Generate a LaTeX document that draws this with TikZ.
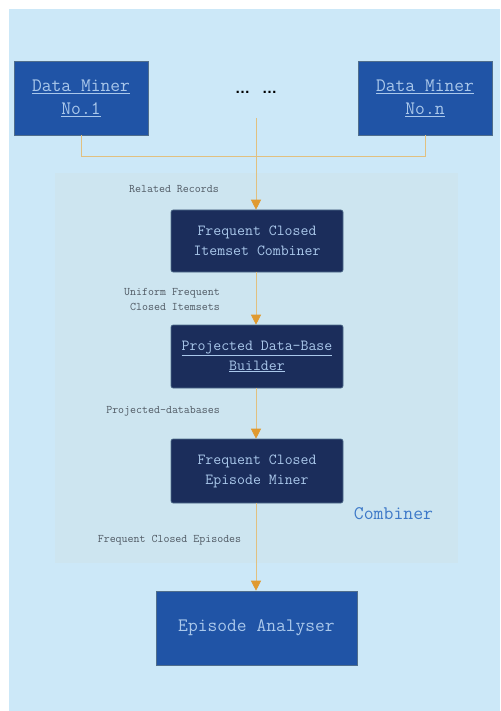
\documentclass[tikz,border=0pt]{standalone}
\usepackage{fontspec}
\newfontfamily\dotsfont{Liberation Sans}
\usetikzlibrary{arrows.meta}

\definecolor{pagebg}{RGB}{204,232,248}
\definecolor{groupbg}{RGB}{205,229,240}
\definecolor{minerblue}{RGB}{32,84,166}
\definecolor{stagenavy}{RGB}{27,45,91}
\definecolor{boxedge}{RGB}{80,110,140}
\definecolor{boxtext}{RGB}{170,200,235}
\definecolor{labeltext}{RGB}{80,90,100}
\definecolor{grouptext}{RGB}{60,120,200}
\definecolor{wire}{RGB}{225,192,128}
\definecolor{tipfill}{RGB}{224,154,48}

\tikzset{
  minerbox/.style={draw=boxedge, line width=0.6pt, fill=minerblue, text=boxtext,
    inner sep=0pt, align=center, font=\ttfamily\fontsize{19}{23}\selectfont},
  stagebox/.style={draw=boxedge, line width=0.6pt, fill=stagenavy, text=boxtext,
    rounded corners=2pt, inner sep=0pt, minimum width=172pt, align=center,
    font=\ttfamily\fontsize{15.4}{20}\selectfont},
  flowlabel/.style={text=labeltext, inner sep=0pt, font=\ttfamily\fontsize{11.6}{15}\selectfont},
  wireline/.style={draw=wire, line width=0.8pt},
  flow/.style={wireline, -{Triangle[width=10pt,length=10pt,fill=tipfill,color=tipfill]}}
}

\begin{document}
\begin{tikzpicture}[x=1pt,y=-1pt]
  \useasboundingbox (0,0) rectangle (500,711);
  \fill[white] (0,0) rectangle (500,711);
  \fill[pagebg] (9,9) rectangle (500,711);
  % combiner group region
  \fill[groupbg] (55,173) rectangle (458,563);

  % data miners
  \node[minerbox, minimum width=134pt, minimum height=74pt] (dm1) at (81,98)
    {\underline{Data Miner}\\\underline{No.1}};
  \node[minerbox, minimum width=134pt, minimum height=74pt] (dmn) at (425,98)
    {\underline{Data Miner}\\\underline{No.n}};
  \node[inner sep=0pt, font=\dotsfont\bfseries\fontsize{15}{15}\selectfont] (dots) at (256,92)
    {…\hspace{12pt}…};

  % combiner stages
  \node[stagebox, minimum height=62pt] (fci) at (257,241)
    {Frequent Closed\\Itemset Combiner};
  \node[stagebox, minimum height=63pt] (pdb) at (257,356.5)
    {\underline{Projected Data-Base}\\\underline{Builder}};
  \node[stagebox, minimum height=64pt] (fce) at (257,471)
    {Frequent Closed\\Episode Miner};
  \node[text=grouptext, inner sep=0pt, font=\ttfamily\fontsize{19.2}{20}\selectfont] (grp) at (393.5,514) {Combiner};

  % analyser
  \node[minerbox, minimum width=201pt, minimum height=74pt] (ea) at (256.5,628)
    {Episode Analyser};

  % links
  \coordinate (feed) at (256,118);
  \draw[wireline] (dm1.south) -- ++(0,21) -| (dmn.south);
  \draw[flow] (feed) -- (fci.north -| feed);
  \draw[flow] (fci.south -| feed) -- (pdb.north -| feed);
  \draw[flow] (pdb.south -| feed) -- (fce.north -| feed);
  \draw[flow] (fce.south -| feed) -- (ea.north -| feed);

  % link labels
  \node[flowlabel] (l1) at (174,189) {Related Records};
  \node[flowlabel, anchor=east, align=right] (l2) at (220,299.5) {Uniform Frequent\\Closed Itemsets};
  \node[flowlabel, anchor=east] (l3) at (220,411) {Projected-databases};
  \node[flowlabel] (l4) at (169.5,540) {Frequent Closed Episodes};
\end{tikzpicture}
\end{document}
